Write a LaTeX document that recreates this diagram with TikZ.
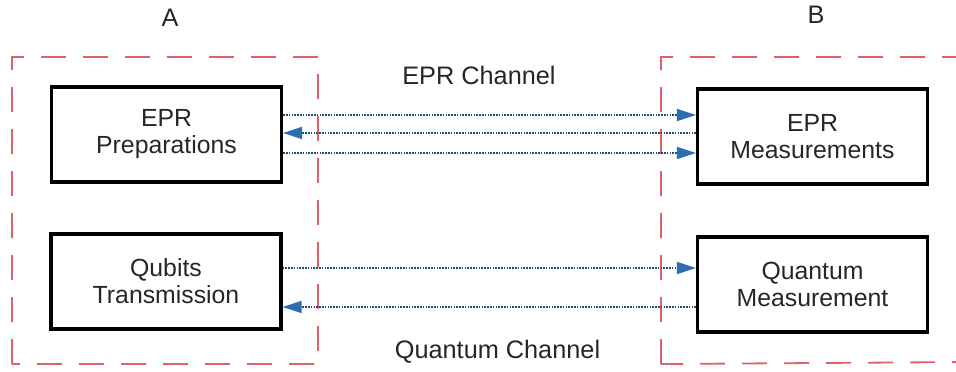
\documentclass[tikz,border=0pt]{standalone}
\usepackage{fontspec}
\setmainfont{Liberation Sans}
\usetikzlibrary{arrows.meta}
\definecolor{zonered}{HTML}{E0606A}
\definecolor{linkblue}{HTML}{2A6DB0}
\definecolor{inktext}{HTML}{262626}
\begin{document}
\begin{tikzpicture}[x=1pt,y=-1pt,
  zone/.style={draw=zonered,line width=1.8pt,dash pattern=on 25pt off 17pt},
  unit/.style={draw=black,line width=3.2pt,minimum width=230pt,minimum height=95pt,
    align=center,font=\fontsize{24.8}{27}\selectfont,text=inktext,inner sep=0pt},
  tag/.style={font=\fontsize{25.3}{27}\selectfont,text=inktext,inner sep=0pt},
  link/.style={draw=linkblue!70!black,line width=1.4pt,dash pattern=on 1.6pt off 1.2pt,
    -{Triangle[length=19pt,width=12pt,fill=linkblue,color=linkblue]}}]
\useasboundingbox (0,0) rectangle (956,372);
\clip (0,0) rectangle (956,372);
% site enclosures
\draw[zone] (12,364) -- (12,57) -- (318,57) -- (318,364) -- cycle;
\draw[zone] (661,364) -- (661,57) -- (975,57) -- (975,362) -- cycle;
% site and channel labels
\node[tag] (siteA) at (170,18) {A};
\node[tag] (siteB) at (816,15) {B};
\node[tag] (eprch) at (479,75) {EPR Channel};
\node[tag] (qch) at (497.5,352) {Quantum Channel};
% processing units
\node[unit] (prep) at (166.5,134.5) {EPR\\Preparations};
\node[unit] (qtx) at (166,281.5) {Qubits\\Transmission};
\node[unit] (meas) at (812.5,136.5) {EPR\\Measurements};
\node[unit] (qmeas) at (812.5,284.5) {Quantum\\Measurement};
% EPR channel links
\draw[link] (prep.east |- 0,115) -- (meas.west |- 0,115);
\draw[link] (meas.west |- 0,133) -- (prep.east |- 0,133);
\draw[link] (prep.east |- 0,153) -- (meas.west |- 0,153);
% quantum channel links
\draw[link] (qtx.east |- 0,268) -- (qmeas.west |- 0,268);
\draw[link] (qmeas.west |- 0,307) -- (qtx.east |- 0,307);
\end{tikzpicture}
\end{document}
